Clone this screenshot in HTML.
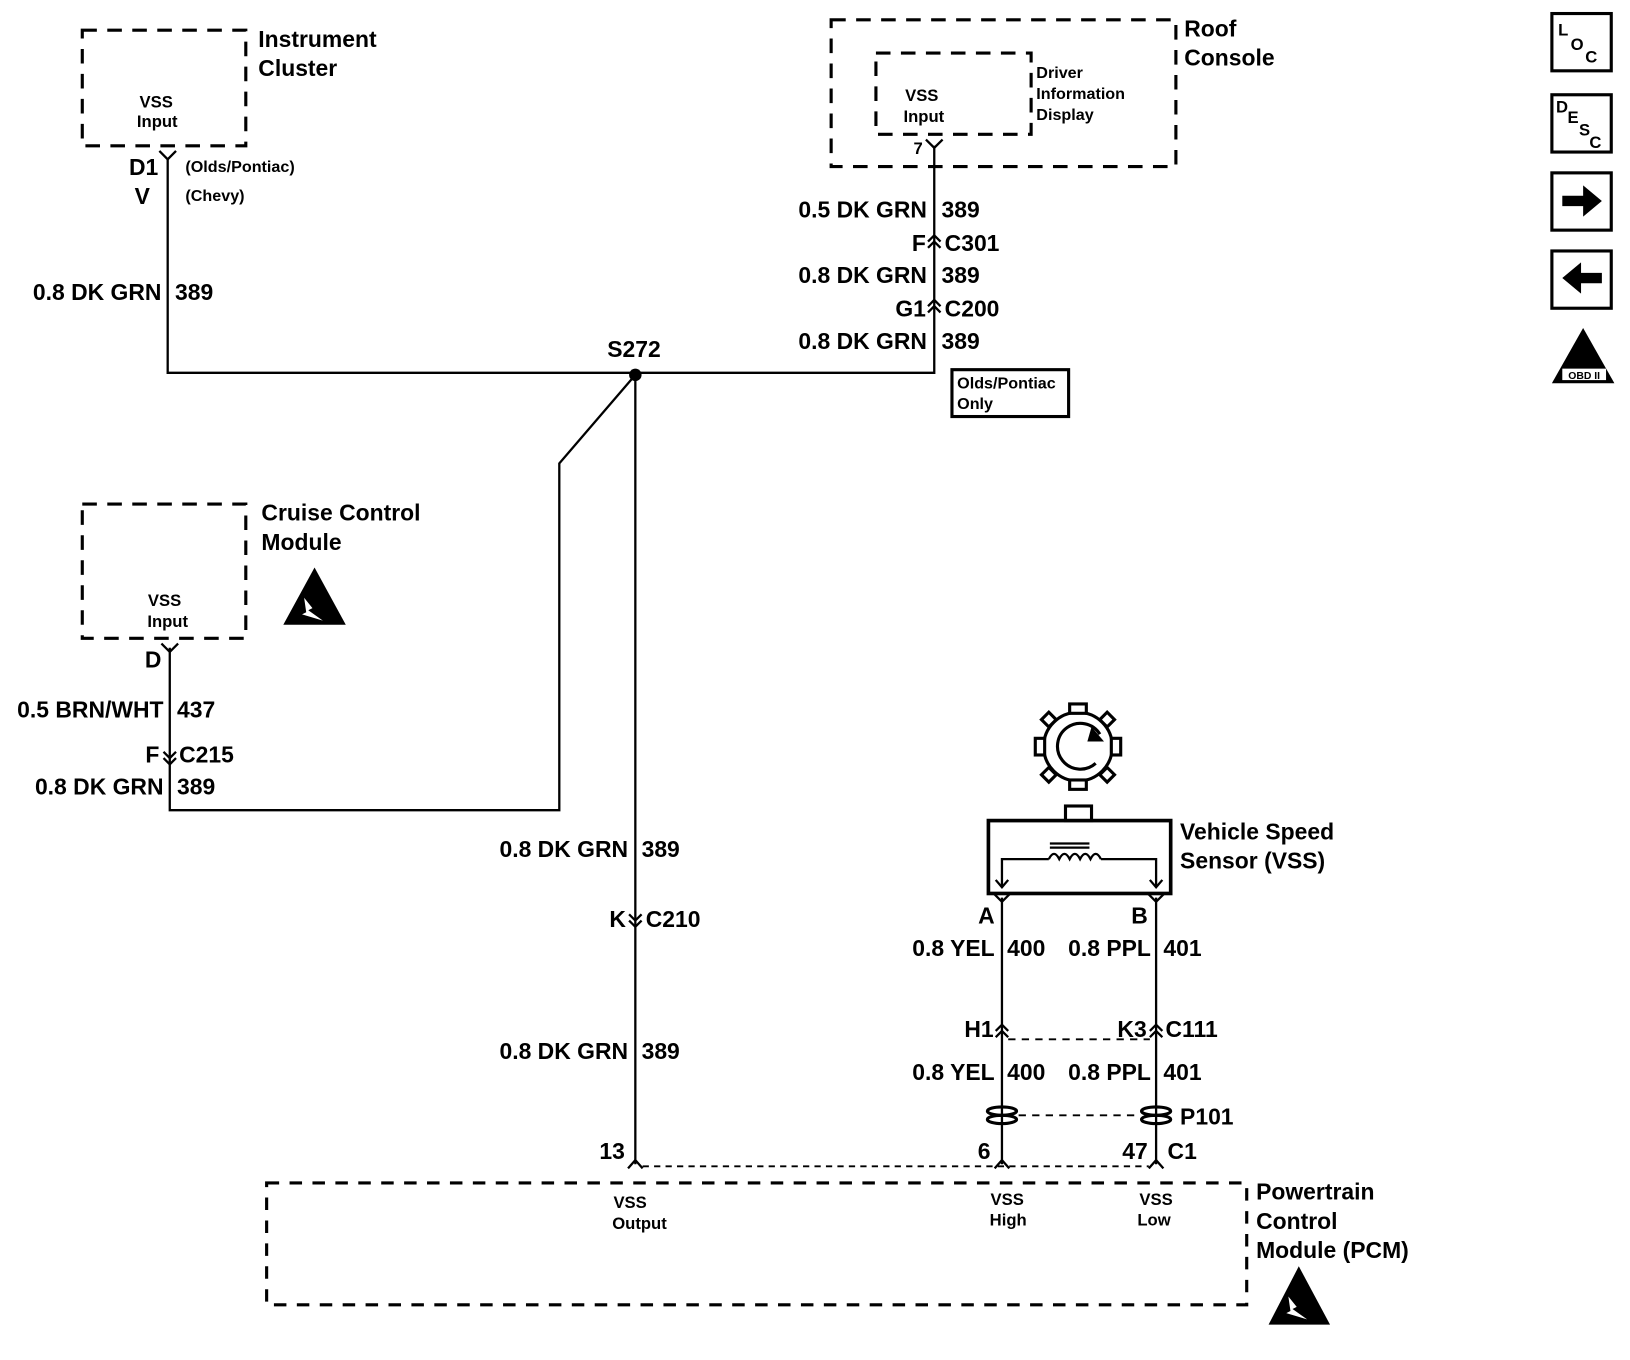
<!DOCTYPE html>
<html><head><meta charset="utf-8"><style>
html,body{margin:0;padding:0;background:#fff;}
svg{display:block;}
text{font-family:"Liberation Sans",sans-serif;fill:#000;font-weight:bold;}
.L{font-size:22px;}
.S{font-size:16px;}
.T{font-size:15.5px;}
</style></head><body>
<svg width="1630" height="1360" viewBox="0 0 1565 1306" preserveAspectRatio="none" xmlns="http://www.w3.org/2000/svg">
<g fill="none" stroke="#000" stroke-width="3">
<rect x="79" y="29" width="157" height="111" stroke-dasharray="14,10"/>
<rect x="798" y="19" width="331" height="141" stroke-dasharray="14,10"/>
<rect x="841" y="51" width="149" height="78" stroke-dasharray="14,10"/>
<rect x="79" y="484" width="157" height="129" stroke-dasharray="14,10"/>
<rect x="256" y="1136" width="941" height="117" stroke-dasharray="12,10"/>
</g>
<g fill="none" stroke="#000" stroke-width="2.2">
<polyline points="161,152 161,358 897,358 897,140"/>
<polyline points="610,360 537,445 537,778 163,778 163,622"/>
<line x1="610" y1="360" x2="610" y2="1118"/>
<line x1="962" y1="862" x2="962" y2="1118"/>
<line x1="1110" y1="862" x2="1110" y2="1118"/>
<polyline points="153,145 161,153 169,145"/>
<polyline points="889,134 897,142 905,134"/>
<polyline points="155,618 163,626 171,618"/>
<polyline points="954,858 962,866 970,858"/>
<polyline points="1102,858 1110,866 1118,858"/>
<polyline points="891,232 897,226 903,232"/><polyline points="891,238 897,232 903,238"/>
<polyline points="891,294 897,288 903,294"/><polyline points="891,300 897,294 903,300"/>
<polyline points="956,990 962,984 968,990"/><polyline points="956,996 962,990 968,996"/>
<polyline points="1104,990 1110,984 1116,990"/><polyline points="1104,996 1110,990 1116,996"/>
<polyline points="157,722 163,728 169,722"/><polyline points="157,728 163,734 169,728"/>
<polyline points="604,878 610,884 616,878"/><polyline points="604,884 610,890 616,884"/>
<polyline points="603,1122 610,1114 617,1122"/>
<polyline points="955,1122 962,1114 969,1122"/>
<polyline points="1103,1122 1110,1114 1117,1122"/>
<line x1="617" y1="1120" x2="1103" y2="1120" stroke-dasharray="6,5" stroke-width="1.8"/>
<line x1="968" y1="998" x2="1104" y2="998" stroke-dasharray="7,6" stroke-width="1.8"/>
<line x1="978" y1="1071" x2="1094" y2="1071" stroke-dasharray="7,6" stroke-width="1.8"/>
<ellipse cx="962" cy="1067" rx="14" ry="4" stroke-width="3"/><ellipse cx="962" cy="1075" rx="14" ry="4" stroke-width="3"/>
<ellipse cx="1110" cy="1067" rx="14" ry="4" stroke-width="3"/><ellipse cx="1110" cy="1075" rx="14" ry="4" stroke-width="3"/>
<rect x="914" y="355" width="112" height="45" stroke-width="3"/>
<rect x="949" y="788" width="175" height="70" stroke-width="3.5"/>
<rect x="1023" y="774" width="25" height="14" stroke-width="3"/>
<polyline points="962,852 962,825 1007,825"/>
<path d="M1007,825 q5,-10 10,0 q5,-10 10,0 q5,-10 10,0 q5,-10 10,0 q5,-10 10,0"/>
<polyline points="1057,825 1110,825 1110,852"/>
<polyline points="956,845 962,852 968,845"/><polyline points="1104,845 1110,852 1116,845"/>
<line x1="1008" y1="814" x2="1046" y2="814"/><line x1="1008" y1="810" x2="1046" y2="810"/>
<circle cx="1035" cy="717" r="33" stroke-width="3"/>
<path d="M1056,705 A22,22 0 1 0 1052,733" stroke-width="3"/>
</g>
<polygon points="1060,712 1048,698 1044,712" fill="#000"/>
<g fill="#fff" stroke="#000" stroke-width="3">
<rect x="1027" y="676" width="16" height="9"/><rect x="1027" y="749" width="16" height="9"/>
<rect x="994" y="709" width="9" height="16"/><rect x="1067" y="709" width="9" height="16"/>
<rect x="1002" y="686" width="10" height="10" transform="rotate(45 1007 691)"/>
<rect x="1058" y="686" width="10" height="10" transform="rotate(45 1063 691)"/>
<rect x="1002" y="739" width="10" height="10" transform="rotate(45 1007 744)"/>
<rect x="1058" y="739" width="10" height="10" transform="rotate(45 1063 744)"/>
</g>
<circle cx="610" cy="360" r="6" fill="#000"/>
<polygon points="302,545 272,600 332,600" fill="#000"/>
<path d="M292,574 l8,10 l-4,2 l14,10 l-20,-6 l4,-2 z" fill="#fff"/>
<polygon points="1247,1216 1218,1272 1277,1272" fill="#000"/>
<path d="M1237,1245 l8,10 l-4,2 l14,10 l-20,-6 l4,-2 z" fill="#fff"/>
<g fill="none" stroke="#000" stroke-width="3">
<rect x="1490" y="13" width="57" height="55"/><rect x="1490" y="91" width="57" height="55"/>
<rect x="1490" y="166" width="57" height="55"/><rect x="1490" y="241" width="57" height="55"/>
</g>
<polygon points="1500,188 1520,188 1520,178 1538,193 1520,208 1520,198 1500,198" fill="#000"/>
<polygon points="1538,262 1518,262 1518,252 1500,267 1518,282 1518,272 1538,272" fill="#000"/>
<polygon points="1520,315 1490,368 1550,368" fill="#000"/>
<rect x="1500" y="354" width="42" height="11" fill="#fff"/>
<text x="1521" y="364" text-anchor="middle" font-size="10">OBD II</text>
<text x="1496" y="34" class="S">L</text><text x="1508" y="48" class="S">O</text><text x="1522" y="60" class="S">C</text>
<text x="1494" y="108" class="S">D</text><text x="1505" y="118" class="S">E</text><text x="1516" y="130" class="S">S</text><text x="1526" y="142" class="S">C</text>
<text x="248" y="45" class="L">Instrument</text><text x="248" y="73" class="L">Cluster</text>
<text x="150" y="103" class="S" text-anchor="middle">VSS</text><text x="151" y="122" class="S" text-anchor="middle">Input</text>
<text x="152" y="168" class="L" text-anchor="end">D1</text><text x="144" y="196" class="L" text-anchor="end">V</text>
<text x="178" y="165" class="T">(Olds/Pontiac)</text><text x="178" y="193" class="T">(Chevy)</text>
<text x="155" y="288" class="L" text-anchor="end">0.8 DK GRN</text><text x="168" y="288" class="L">389</text>
<text x="583" y="343" class="L">S272</text>
<text x="1137" y="35" class="L">Roof</text><text x="1137" y="63" class="L">Console</text>
<text x="885" y="97" class="S" text-anchor="middle">VSS</text><text x="887" y="117" class="S" text-anchor="middle">Input</text>
<text x="995" y="75" class="T">Driver</text><text x="995" y="95" class="T">Information</text><text x="995" y="115" class="T">Display</text>
<text x="886" y="148" class="S" text-anchor="end">7</text>
<text x="890" y="209" class="L" text-anchor="end">0.5 DK GRN</text><text x="904" y="209" class="L">389</text>
<text x="889" y="241" class="L" text-anchor="end">F</text><text x="907" y="241" class="L">C301</text>
<text x="890" y="272" class="L" text-anchor="end">0.8 DK GRN</text><text x="904" y="272" class="L">389</text>
<text x="889" y="304" class="L" text-anchor="end">G1</text><text x="907" y="304" class="L">C200</text>
<text x="890" y="335" class="L" text-anchor="end">0.8 DK GRN</text><text x="904" y="335" class="L">389</text>
<text x="919" y="373" class="T">Olds/Pontiac</text><text x="919" y="393" class="T">Only</text>
<text x="251" y="500" class="L">Cruise Control</text><text x="251" y="528" class="L">Module</text>
<text x="158" y="582" class="S" text-anchor="middle">VSS</text><text x="161" y="602" class="S" text-anchor="middle">Input</text>
<text x="155" y="641" class="L" text-anchor="end">D</text>
<text x="157" y="689" class="L" text-anchor="end">0.5 BRN/WHT</text><text x="170" y="689" class="L">437</text>
<text x="153" y="732" class="L" text-anchor="end">F</text><text x="172" y="732" class="L">C215</text>
<text x="157" y="763" class="L" text-anchor="end">0.8 DK GRN</text><text x="170" y="763" class="L">389</text>
<text x="603" y="823" class="L" text-anchor="end">0.8 DK GRN</text><text x="616" y="823" class="L">389</text>
<text x="601" y="890" class="L" text-anchor="end">K</text><text x="620" y="890" class="L">C210</text>
<text x="603" y="1017" class="L" text-anchor="end">0.8 DK GRN</text><text x="616" y="1017" class="L">389</text>
<text x="600" y="1113" class="L" text-anchor="end">13</text>
<text x="951" y="1113" class="L" text-anchor="end">6</text>
<text x="1102" y="1113" class="L" text-anchor="end">47</text><text x="1121" y="1113" class="L">C1</text>
<text x="1133" y="806" class="L">Vehicle Speed</text><text x="1133" y="834" class="L">Sensor (VSS)</text>
<text x="955" y="887" class="L" text-anchor="end">A</text><text x="1102" y="887" class="L" text-anchor="end">B</text>
<text x="955" y="918" class="L" text-anchor="end">0.8 YEL</text><text x="967" y="918" class="L">400</text>
<text x="1105" y="918" class="L" text-anchor="end">0.8 PPL</text><text x="1117" y="918" class="L">401</text>
<text x="954" y="996" class="L" text-anchor="end">H1</text><text x="1101" y="996" class="L" text-anchor="end">K3</text><text x="1119" y="996" class="L">C111</text>
<text x="955" y="1037" class="L" text-anchor="end">0.8 YEL</text><text x="967" y="1037" class="L">400</text>
<text x="1105" y="1037" class="L" text-anchor="end">0.8 PPL</text><text x="1117" y="1037" class="L">401</text>
<text x="1133" y="1080" class="L">P101</text>
<text x="605" y="1160" class="S" text-anchor="middle">VSS</text><text x="614" y="1180" class="S" text-anchor="middle">Output</text>
<text x="967" y="1157" class="S" text-anchor="middle">VSS</text><text x="968" y="1177" class="S" text-anchor="middle">High</text>
<text x="1110" y="1157" class="S" text-anchor="middle">VSS</text><text x="1108" y="1177" class="S" text-anchor="middle">Low</text>
<text x="1206" y="1152" class="L">Powertrain</text><text x="1206" y="1180" class="L">Control</text><text x="1206" y="1208" class="L">Module (PCM)</text>
</svg>
</body></html>
